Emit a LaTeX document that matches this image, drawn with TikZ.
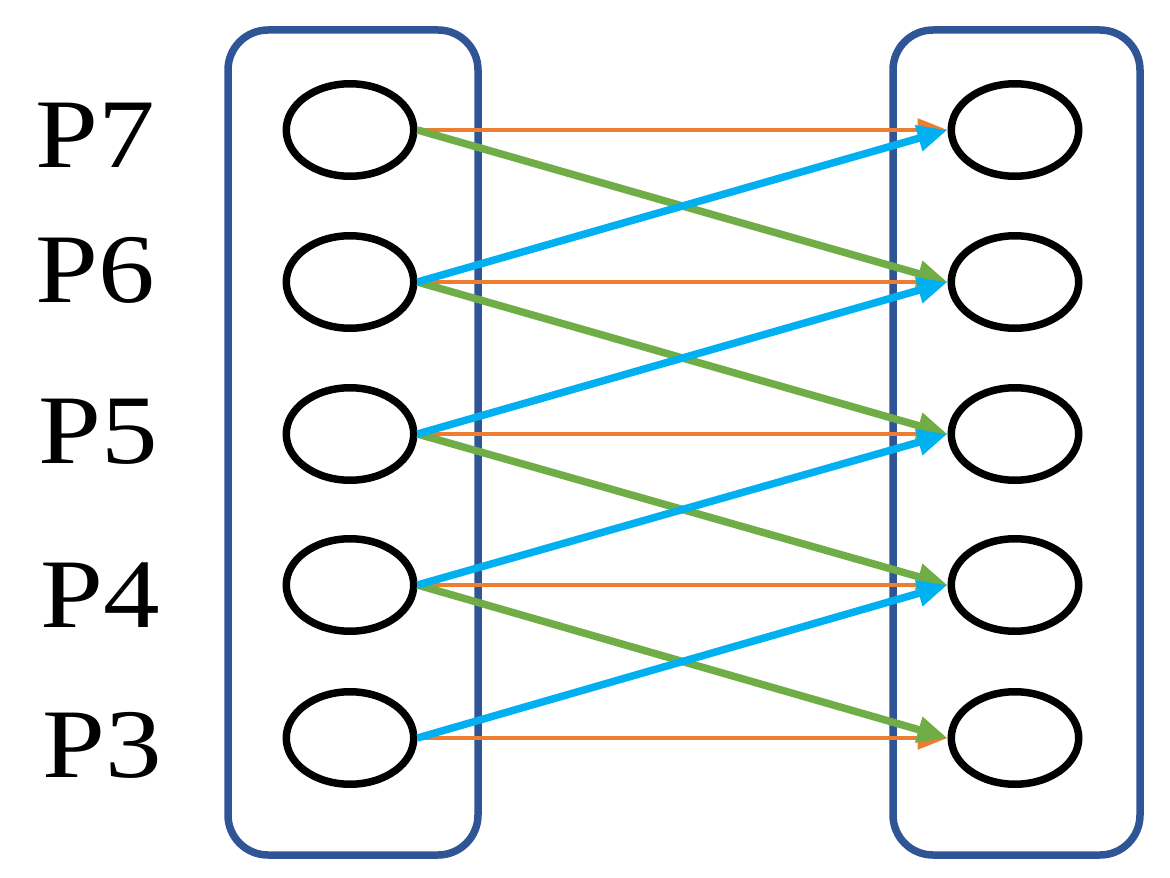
\documentclass[tikz,border=0pt]{standalone}
\usepackage{fontspec}
\setmainfont{Liberation Serif}
\usetikzlibrary{arrows.meta,shapes.geometric}
\definecolor{boxblue}{HTML}{2F5597}
\definecolor{org}{HTML}{ED7D31}
\definecolor{grn}{HTML}{70AD47}
\definecolor{cyn}{HTML}{00B0F0}
\begin{document}
\begin{tikzpicture}[x=0.02cm,y=-0.02cm,
 box/.style={draw=boxblue,line width=0.15cm,rounded corners=0.8cm},
 cir/.style={draw=black,line width=0.15cm,ellipse,minimum width=2.55cm,minimum height=1.85cm,inner sep=0pt},
 lab/.style={font=\fontsize{56}{58}\selectfont,xscale=1.15},
 oa/.style={draw=org,line width=0.08cm,-{Triangle[length=0.6cm,width=0.45cm]}},
 ga/.style={draw=grn,line width=0.15cm,-{Triangle[length=0.6cm,width=0.5cm]}},
 ba/.style={draw=cyn,line width=0.15cm,-{Triangle[length=0.6cm,width=0.5cm]}}]
\useasboundingbox (0,0) rectangle (1170,878);
\draw[box] (228,30) rectangle (478,855);
\draw[box] (893,30) rectangle (1140,855);
\foreach \n/\y/\lx/\ly in {7/130/95/135,6/282/95/270,5/434/98/432,4/585/100/595,3/738/102/745}{
  \node[cir] (L\n) at (350,\y) {};
  \node[cir] (R\n) at (1015,\y) {};
  \node[lab] (T\n) at (\lx,\ly) {P\n};
}
\foreach \n in {7,6,5,4,3}{ \draw[oa] (L\n.east) -- (R\n.west); }
\foreach \a/\b in {7/6,6/5,5/4,4/3}{ \draw[ga] (L\a.east) -- (R\b.west); }
\foreach \a/\b in {6/7,5/6,4/5,3/4}{ \draw[ba] (L\a.east) -- (R\b.west); }
\end{tikzpicture}
\end{document}
